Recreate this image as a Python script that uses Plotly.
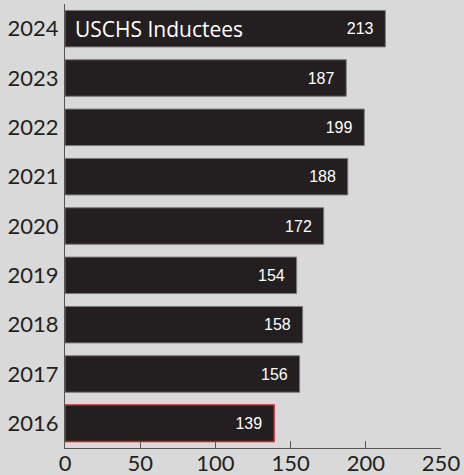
import plotly.graph_objects as go

# Data
years = ["2016", "2017", "2018", "2019", "2020", "2021", "2022", "2023", "2024"]
inductees = [139, 156, 158, 154, 172, 188, 199, 187, 213]
x_ticks = [0, 50, 100, 150, 200, 250]

bar_color = "#231f20"
outline = ["#c8202f" if y == "2016" else "#7a7a7a" for y in years]
outline_w = [1.5 if y == "2016" else 1 for y in years]

fig = go.Figure()

fig.add_trace(go.Bar(
    x=inductees,
    y=years,
    orientation="h",
    width=0.74,
    marker=dict(color=bar_color, line=dict(color=outline, width=outline_w)),
    text=[f"{v}  " for v in inductees],
    textposition="inside",
    insidetextanchor="end",
    textfont=dict(family="Liberation Sans, Arial", size=16, color="white"),
    hoverinfo="skip",
))

# Series label inside the top bar (category index of the last year)
fig.add_annotation(
    x=0, y=len(years) - 1, xref="x", yref="y",
    text="USCHS Inductees",
    showarrow=False,
    xanchor="left", xshift=8,
    font=dict(family="Open Sans, Noto Sans", size=21, color="white"),
)

fig.update_xaxes(
    range=[0, 250],
    autorange=False,
    automargin=False,
    tickvals=x_ticks,
    ticks="inside",
    ticklen=7,
    tickcolor="#555555",
    showline=True,
    linecolor="#555555",
    linewidth=1,
    showgrid=False,
    zeroline=False,
    ticklabelstandoff=-4,
    tickfont=dict(family="Lato, DejaVu Sans", size=22, color="#231f20"),
)
fig.update_yaxes(
    type="category",
    categoryorder="array",
    categoryarray=years,
    range=[-0.5, len(years) - 0.5],
    autorange=False,
    automargin=False,
    showline=True,
    linecolor="#555555",
    linewidth=1,
    showgrid=False,
    ticks="",
    ticklabelstandoff=1,
    tickfont=dict(family="Lato, DejaVu Sans", size=22, color="#231f20"),
)

fig.update_layout(
    width=464,
    height=475,
    margin=dict(l=65, r=23, t=4, b=27),
    paper_bgcolor="#d9d9d9",
    plot_bgcolor="#d9d9d9",
    showlegend=False,
)

# drop the default page margin so the figure sits at the window's corner
fig.write_html(
    "out.html",
    config={"displayModeBar": False},
    post_script="document.body.style.margin='0';",
)
